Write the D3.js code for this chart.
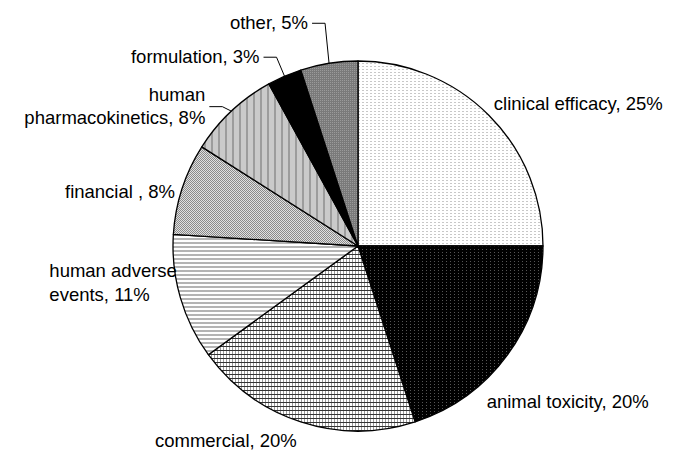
<!DOCTYPE html>
<html><head><meta charset="utf-8">
<script src="https://cdn.jsdelivr.net/npm/d3@7"></script>
<style>body{margin:0;background:#fff}svg{display:block}text{font-family:"Liberation Sans",Arial,sans-serif;font-size:18.5px;fill:#000}</style>
</head><body><svg id="c" width="687" height="453"></svg>
<script>
const categories = ["clinical efficacy","animal toxicity","commercial","human adverse events","financial ","human pharmacokinetics","formulation","other"];
const values = [25,20,20,11,8,8,3,5];
const labelLines = [["clinical efficacy, 25%"],["animal toxicity, 20%"],["commercial, 20%"],["human adverse","events, 11%"],["financial , 8%"],["human","pharmacokinetics, 8%"],["formulation, 3%"],["other, 5%"]];

const cx=358,cy=246,R=185;
const svg=d3.select("#c");
const defs=svg.append("defs");
function pat(id,w,h,bg,draw){const p=defs.append("pattern").attr("id",id).attr("patternUnits","userSpaceOnUse").attr("width",w).attr("height",h);p.append("rect").attr("width",w).attr("height",h).attr("fill",bg);draw(p);}
pat("p0",4,3,"#fff",p=>{p.append("rect").attr("x",0).attr("y",0).attr("width",2).attr("height",1).attr("fill","#c8c8c8");});
pat("p1",4,3,"#000",p=>{p.append("rect").attr("x",0).attr("y",0).attr("width",1).attr("height",1).attr("fill","#555");});
pat("p2",3,4,"#fff",p=>{p.append("rect").attr("x",0).attr("y",0).attr("width",1).attr("height",4).attr("fill","#999");p.append("rect").attr("x",0).attr("y",0).attr("width",3).attr("height",1).attr("fill","#333");});
pat("p3",4,4,"#fff",p=>{p.append("rect").attr("x",0).attr("y",0).attr("width",4).attr("height",2).attr("fill","#b4b4b4");});
pat("p4",2,2,"#e0e0e0",p=>{p.append("rect").attr("x",0).attr("y",0).attr("width",1).attr("height",1).attr("fill","#8a8a8a");p.append("rect").attr("x",1).attr("y",1).attr("width",1).attr("height",1).attr("fill","#8a8a8a");});
pat("p5",7,4,"#cacaca",p=>{p.append("rect").attr("x",0).attr("y",0).attr("width",2).attr("height",4).attr("fill","#9c9c9c");});
pat("p6",4,4,"#000",p=>{});
pat("p7",2,2,"#7a7a7a",p=>{p.append("rect").attr("x",0).attr("y",0).attr("width",1).attr("height",1).attr("fill","#9a9a9a");});

const data=categories.map((c,i)=>({c,v:values[i],lines:labelLines[i],i}));
const pie=d3.pie().value(d=>d.v).sort(null);
const arcs=pie(data);
const arc=d3.arc().innerRadius(0).outerRadius(R);
const g=svg.append("g").attr("transform",`translate(${cx},${cy})`);
g.selectAll("path").data(arcs).join("path").attr("d",arc).attr("fill",d=>`url(#p${d.index})`).attr("stroke","#000").attr("stroke-width",1.3).attr("stroke-linejoin","round");

// label layout: anchor, offsets of last baseline from the edge point at mid-angle
const layout=[
 {a:"start",dx:5,dy:-5},
 {a:"start",dx:-21,dy:53},
 {a:"end",dx:-4,dy:25},
 {a:"start",dx:-131,dy:3,lh:24},
 {a:"end",dx:-7,dy:9},
 {a:"end",dx:-26,dy:13,lh:23,leader:true},
 {a:"end",dx:-25,dy:-13,leader:true},
 {a:"end",dx:-21,dy:-34,leader:true}
];
arcs.forEach((d,k)=>{
  const m=(d.startAngle+d.endAngle)/2;
  const px=cx+R*Math.sin(m), py=cy-R*Math.cos(m);
  const L=layout[k];
  const lh=L.lh||20;
  const n=d.data.lines.length;
  const x0=px+L.dx, yb=py+L.dy;
  const t=svg.append("text").attr("text-anchor",L.a);
  d.data.lines.forEach((s,j)=>{
    t.append("tspan").attr("x",x0).attr("y",yb-(n-1-j)*lh).text(s);
  });
  if(L.leader){
    const ex=x0+4, ey=yb-(n-1)*lh/2-6;
    const kx=ex+13;
    svg.append("polyline").attr("points",`${ex},${ey} ${kx},${ey} ${px},${py}`).attr("fill","none").attr("stroke","#000").attr("stroke-width",1);
  }
});
</script></body></html>
